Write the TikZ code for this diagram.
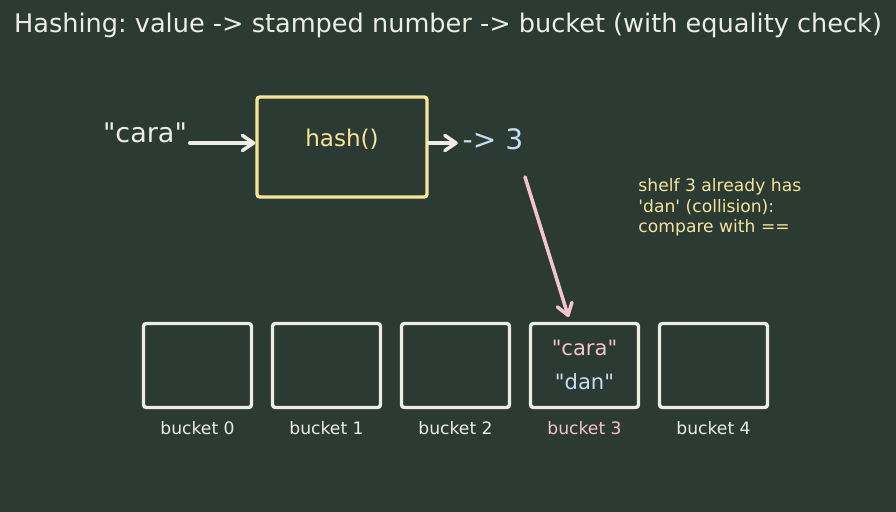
\documentclass[tikz,border=0pt]{standalone}
\usepackage{fontspec}
\newfontfamily\dejavu{DejaVu Sans}
\usetikzlibrary{arrows.meta}

\definecolor{bg}{HTML}{2B3B34}
\definecolor{txt}{HTML}{ECEEE6}
\definecolor{yel}{HTML}{F6E49A}
\definecolor{blu}{HTML}{C6DDF2}
\definecolor{pnk}{HTML}{F5C2CF}

\begin{document}
\dejavu\frenchspacing
\begin{tikzpicture}[
  arr/.style={line width=2.5pt, line cap=round, -{Straight Barb[length=2.8mm, width=3.8mm, round]}},
  bucketbox/.style={draw=txt, line width=2.4pt, rounded corners=2pt, minimum width=2.7cm, minimum height=2.1cm},
  small/.style={font=\fontsize{12.2}{14.6}\selectfont}]
\fill[bg] (0,0) rectangle (22.4,12.8);
\useasboundingbox (0,0) rectangle (22.4,12.8);
\node[txt, font=\fontsize{18.2}{20}\selectfont] (title) at (11.2,12.175)
  {Hashing: value -> stamped number -> bucket (with equality check)};
% input, hash box and result
\node[txt, anchor=base, inner sep=1pt, outer sep=1pt, font=\fontsize{19.2}{20}\selectfont] (cara) at (3.625,9.225) {"cara"};
\node[draw=yel, line width=2.4pt, rounded corners=2pt, minimum width=4.25cm, minimum height=2.5cm] (hash) at (8.55,9.125) {};
\node[yel, font=\fontsize{16.4}{20}\selectfont] (hashtxt) at (8.55,9.325) {hash()};
\node[blu, font=\fontsize{20}{20}\selectfont] (out) at (12.325,9.325) {-> 3};
\draw[arr, txt] (cara.base east) -- (hash.west |- cara.base);
\draw[arr, txt] (hash.east |- cara.base) -- (out.west |- cara.base);
% buckets
\foreach \i/\c in {0/txt,1/txt,2/txt,3/pnk,4/txt} {
  \node[bucketbox] (b\i) at ({4.9375+\i*3.225},3.6625) {};
  \node[\c, small] (lab\i) at ({4.9375+\i*3.225},2.1) {bucket \i};
}
\node[pnk, font=\fontsize{15}{18}\selectfont] (bcara) at ([yshift=0.44cm]b3.center) {"cara"};
\node[blu, font=\fontsize{15}{18}\selectfont] (bdan) at ([yshift=-0.41cm]b3.center) {"dan"};
\coordinate (tail) at (13.125,8.375);
\draw[arr, pnk] (tail) -- ([xshift=-0.4cm,yshift=0.12cm]b3.north);
\node[yel, small, align=left, anchor=west, inner sep=1pt] (note) at (15.92,7.6125)
  {shelf 3 already has\\'dan' (collision):\\compare with ==};
\end{tikzpicture}
\end{document}
